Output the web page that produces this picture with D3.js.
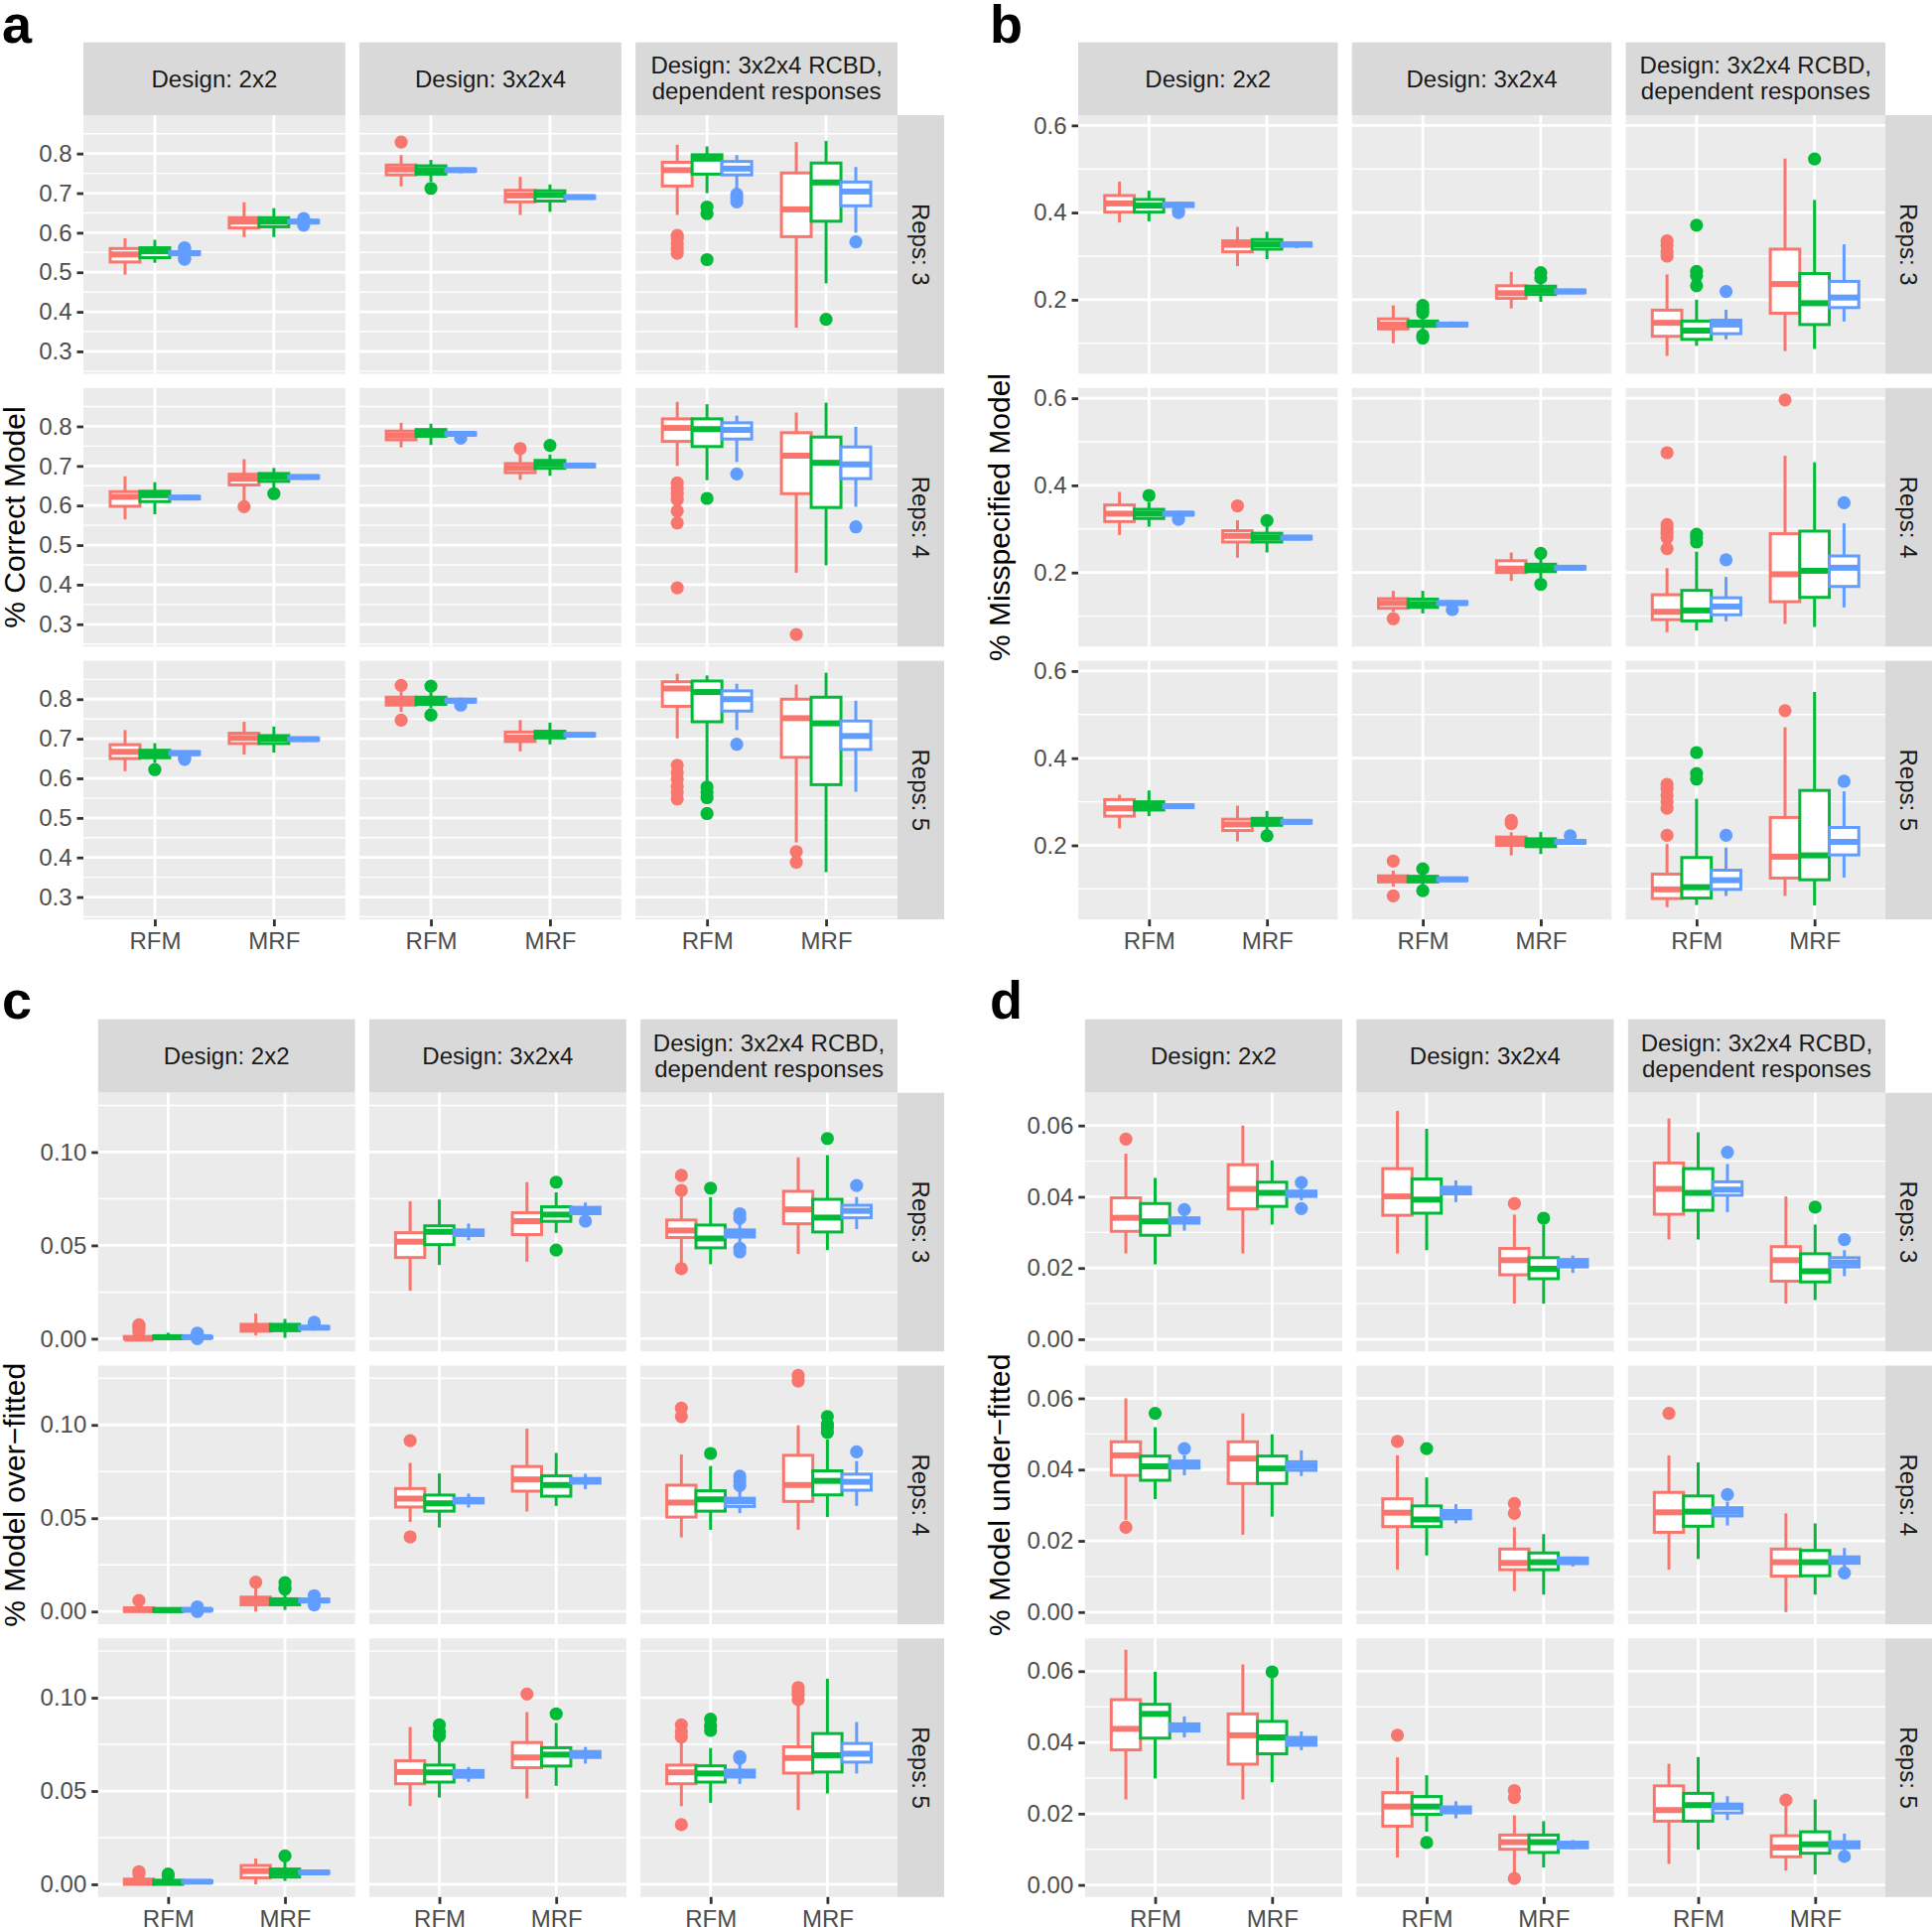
<!DOCTYPE html>
<html><head><meta charset="utf-8">
<script src="https://cdnjs.cloudflare.com/ajax/libs/d3/7.8.5/d3.min.js"></script>
<style>body{margin:0;background:#fff}svg{display:block}</style>
</head><body>
<script>
// ---------- categories & labels ----------
const methods = ["RFM", "MRF"];
const designs = [["Design: 2x2"], ["Design: 3x2x4"], ["Design: 3x2x4 RCBD,", "dependent responses"]];
const repsLabels = ["Reps: 3", "Reps: 4", "Reps: 5"];
const seriesColors = ["#F8766D", "#00BA38", "#619CFF"];
const panelLetters = ["a", "b", "c", "d"];
const yTitles = ["% Correct Model", "% Misspecified Model", "% Model over\u2212fitted", "% Model under\u2212fitted"];

const ticksA = [0.3, 0.4, 0.5, 0.6, 0.7, 0.8];
const minorA = [0.25, 0.35, 0.45, 0.55, 0.65, 0.75, 0.85];
const ticksB = [0.2, 0.4, 0.6];
const minorB = [0.1, 0.3, 0.5];
const ticksC = [0.00, 0.05, 0.10];
const minorC = [0.025, 0.075, 0.125];
const ticksD = [0.00, 0.02, 0.04, 0.06];
const minorD = [0.01, 0.03, 0.05];

// ---------- data: [reps][design][method][series] = [lower whisker, q1, median, q3, upper whisker, outliers] ----------
const correctModel = [
 [ // Reps 3
  [[[0.494,0.526,0.545,0.560,0.586,[]],[0.524,0.537,0.553,0.562,0.582,[]],[0.540,0.545,0.548,0.552,0.556,[0.562,0.559,0.536,0.533]]],
   [[0.589,0.612,0.628,0.638,0.677,[]],[0.589,0.615,0.628,0.638,0.662,[]],[0.621,0.625,0.628,0.631,0.634,[0.636,0.619]]]],
  [[[0.717,0.746,0.760,0.771,0.796,[0.829]],[0.729,0.748,0.758,0.769,0.784,[0.712]],[0.750,0.755,0.758,0.761,0.765,[]]],
   [[0.645,0.678,0.694,0.707,0.741,[]],[0.653,0.680,0.695,0.706,0.722,[]],[0.684,0.687,0.690,0.693,0.696,[]]]],
  [[[0.645,0.718,0.758,0.778,0.822,[0.593,0.585,0.572,0.560,0.548]],[0.700,0.748,0.787,0.797,0.818,[0.665,0.648,0.532]],[0.706,0.746,0.762,0.780,0.796,[0.697,0.688,0.678]]],
   [[0.360,0.590,0.659,0.751,0.829,[]],[0.472,0.629,0.727,0.776,0.832,[0.381]],[0.600,0.668,0.704,0.728,0.766,[0.577]]]]
 ],
 [ // Reps 4
  [[[0.565,0.598,0.622,0.635,0.674,[]],[0.578,0.610,0.626,0.636,0.659,[]],[0.614,0.617,0.620,0.623,0.627,[]]],
   [[0.612,0.652,0.668,0.679,0.717,[0.597]],[0.643,0.661,0.672,0.681,0.695,[0.630]],[0.665,0.669,0.672,0.675,0.678,[]]]],
  [[[0.747,0.766,0.777,0.788,0.809,[]],[0.753,0.775,0.783,0.792,0.807,[]],[0.775,0.778,0.781,0.784,0.789,[0.770]]],
   [[0.665,0.683,0.695,0.706,0.732,[0.744]],[0.675,0.694,0.705,0.714,0.729,[0.752]],[0.695,0.698,0.701,0.704,0.707,[]]]],
  [[[0.700,0.762,0.796,0.819,0.862,[0.657,0.643,0.630,0.615,0.586,0.556,0.392]],[0.664,0.749,0.793,0.819,0.856,[0.618]],[0.710,0.768,0.791,0.809,0.827,[0.680]]],
   [[0.430,0.630,0.726,0.784,0.835,[0.274]],[0.449,0.595,0.708,0.773,0.860,[]],[0.597,0.668,0.704,0.748,0.799,[0.546]]]]
 ],
 [ // Reps 5
  [[[0.618,0.650,0.667,0.685,0.722,[]],[0.639,0.652,0.662,0.671,0.689,[0.622]],[0.656,0.660,0.664,0.667,0.670,[0.652,0.648]]],
   [[0.660,0.688,0.702,0.714,0.743,[]],[0.665,0.688,0.700,0.708,0.731,[]],[0.692,0.696,0.699,0.702,0.705,[]]]],
  [[[0.768,0.785,0.795,0.805,0.818,[0.835,0.747]],[0.777,0.787,0.796,0.805,0.818,[0.833,0.760]],[0.788,0.793,0.796,0.800,0.804,[0.785]]],
   [[0.668,0.693,0.703,0.717,0.747,[]],[0.686,0.702,0.710,0.719,0.741,[]],[0.703,0.707,0.710,0.713,0.716,[]]]],
  [[[0.701,0.782,0.827,0.844,0.864,[0.633,0.615,0.598,0.580,0.565,0.548]],[0.588,0.743,0.818,0.846,0.860,[0.578,0.565,0.551,0.511]],[0.722,0.770,0.800,0.821,0.839,[0.686]]],
   [[0.438,0.653,0.752,0.800,0.837,[0.415,0.388]],[0.363,0.584,0.739,0.805,0.867,[]],[0.566,0.673,0.707,0.745,0.796,[]]]]
 ]
];

const misspecifiedModel = [
 [ // Reps 3
  [[[0.377,0.401,0.421,0.439,0.471,[]],[0.380,0.401,0.416,0.430,0.450,[]],[0.410,0.414,0.418,0.421,0.425,[0.405,0.400]]],
   [[0.277,0.310,0.326,0.335,0.367,[]],[0.293,0.316,0.327,0.338,0.356,[]],[0.318,0.323,0.327,0.330,0.334,[]]]],
  [[[0.100,0.133,0.143,0.156,0.187,[]],[0.128,0.139,0.145,0.151,0.162,[0.187,0.178,0.170,0.118,0.112]],[0.136,0.140,0.143,0.146,0.150,[]]],
   [[0.180,0.203,0.215,0.232,0.264,[]],[0.195,0.212,0.222,0.231,0.240,[0.262,0.250]],[0.213,0.216,0.219,0.222,0.225,[]]]],
  [[[0.071,0.116,0.147,0.176,0.258,[0.335,0.325,0.310,0.300]],[0.094,0.109,0.129,0.151,0.200,[0.371,0.265,0.255,0.232]],[0.109,0.122,0.143,0.153,0.177,[0.219]]],
   [[0.082,0.169,0.236,0.316,0.524,[]],[0.087,0.143,0.192,0.260,0.429,[0.523]],[0.150,0.182,0.205,0.242,0.327,[]]]]
 ],
 [ // Reps 4
  [[[0.286,0.317,0.335,0.355,0.385,[]],[0.305,0.324,0.335,0.345,0.362,[0.377]],[0.327,0.332,0.335,0.338,0.342,[0.322]]],
   [[0.234,0.270,0.284,0.296,0.320,[0.353]],[0.246,0.270,0.280,0.290,0.305,[0.319]],[0.274,0.277,0.280,0.283,0.286,[]]]],
  [[[0.110,0.118,0.130,0.140,0.158,[0.094]],[0.106,0.120,0.128,0.139,0.158,[]],[0.122,0.127,0.130,0.133,0.136,[0.115]]],
   [[0.181,0.200,0.209,0.227,0.246,[]],[0.187,0.202,0.210,0.219,0.231,[0.244,0.173]],[0.205,0.208,0.211,0.214,0.217,[]]]],
  [[[0.063,0.092,0.110,0.149,0.210,[0.475,0.310,0.300,0.290,0.280,0.255]],[0.067,0.089,0.113,0.159,0.248,[0.288,0.280,0.270]],[0.088,0.103,0.122,0.142,0.190,[0.229]]],
   [[0.082,0.133,0.196,0.289,0.468,[0.596]],[0.075,0.143,0.204,0.295,0.453,[]],[0.120,0.168,0.211,0.238,0.313,[0.360]]]]
 ],
 [ // Reps 5
  [[[0.239,0.267,0.285,0.305,0.316,[]],[0.267,0.281,0.290,0.300,0.326,[]],[0.283,0.287,0.290,0.293,0.296,[]]],
   [[0.209,0.234,0.248,0.260,0.291,[]],[0.233,0.246,0.254,0.262,0.279,[0.222]],[0.248,0.251,0.254,0.257,0.260,[]]]],
  [[[0.105,0.116,0.123,0.130,0.142,[0.164,0.084]],[0.108,0.116,0.122,0.129,0.139,[0.146,0.096]],[0.116,0.119,0.122,0.125,0.128,[]]],
   [[0.177,0.200,0.210,0.219,0.230,[0.257,0.250]],[0.180,0.197,0.206,0.215,0.231,[]],[0.202,0.205,0.208,0.211,0.215,[0.222]]]],
  [[[0.058,0.078,0.099,0.134,0.203,[0.340,0.330,0.315,0.300,0.285,0.223]],[0.063,0.079,0.104,0.172,0.307,[0.413,0.365,0.352]],[0.084,0.099,0.120,0.143,0.195,[0.223]]],
   [[0.084,0.125,0.174,0.264,0.471,[0.509]],[0.062,0.121,0.177,0.326,0.552,[]],[0.126,0.178,0.208,0.241,0.324,[0.347]]]]
 ]
];

const overFitted = [
 [ // Reps 3
  [[[0,0,0,0.0012,0.0025,[0.0075,0.0065,0.005,0.0035]],[0,0,0.0008,0.0015,0.0032,[]],[0.0002,0.0005,0.0008,0.0011,0.0015,[0.0025,0.003,0]]],
   [[0.0018,0.004,0.006,0.0077,0.0135,[]],[0.0005,0.0043,0.006,0.0077,0.0106,[]],[0.0045,0.0053,0.0059,0.0065,0.007,[0.0088,0.0078]]]],
  [[[0.0257,0.0435,0.052,0.0568,0.0736,[]],[0.0395,0.0504,0.0573,0.0605,0.0746,[]],[0.0528,0.0553,0.0567,0.0583,0.0617,[]]],
   [[0.0413,0.0558,0.063,0.0675,0.0839,[]],[0.0567,0.0629,0.0665,0.0707,0.0785,[0.0839,0.0475]],[0.0652,0.067,0.0687,0.0704,0.073,[0.063]]]],
  [[[0.0404,0.0542,0.058,0.0636,0.0777,[0.0875,0.0795,0.0375]],[0.0399,0.0487,0.0537,0.0609,0.0759,[0.0807]],[0.0505,0.0545,0.0564,0.0583,0.062,[0.067,0.0645,0.0485,0.0465]]],
   [[0.0454,0.0616,0.0693,0.079,0.0972,[]],[0.0475,0.0572,0.0649,0.0747,0.0984,[0.1073]],[0.0587,0.0648,0.0685,0.0715,0.0759,[0.0821]]]]
 ],
 [ // Reps 4
  [[[0,0,0.001,0.002,0.003,[0.0059]],[0,0,0.0008,0.0015,0.002,[]],[0.0003,0.0006,0.0009,0.0012,0.0016,[0.0025,0]]],
   [[0,0.0036,0.006,0.0077,0.0139,[0.0157]],[0.0009,0.0036,0.0055,0.0068,0.0098,[0.0155,0.013,0.012]],[0.0045,0.0052,0.0059,0.0066,0.0072,[0.0085,0.0035]]]],
  [[[0.048,0.056,0.0605,0.0659,0.0797,[0.0916,0.04]],[0.045,0.0538,0.058,0.0624,0.074,[]],[0.0557,0.0582,0.0594,0.0606,0.0632,[]]],
   [[0.0536,0.0645,0.0708,0.0777,0.098,[]],[0.0566,0.0618,0.0678,0.0727,0.085,[]],[0.0655,0.0688,0.07,0.0713,0.0738,[]]]],
  [[[0.0397,0.0506,0.0584,0.0677,0.0842,[0.109,0.1045]],[0.0438,0.0538,0.0601,0.0647,0.078,[0.0847]],[0.0527,0.0563,0.059,0.0607,0.066,[0.0725,0.07,0.0675]]],
   [[0.0438,0.059,0.0678,0.0837,0.0998,[0.1265,0.1235]],[0.0507,0.0625,0.07,0.0754,0.0922,[0.1045,0.1005,0.0985,0.096]],[0.0566,0.065,0.0695,0.0736,0.0806,[0.0856]]]]
 ],
 [ // Reps 5
  [[[0,0,0.0012,0.0028,0.0042,[0.0068,0.0055]],[0,0,0.001,0.0022,0.0036,[0.0055,0.0045]],[0.0004,0.0009,0.0014,0.0019,0.0024,[]]],
   [[0,0.0035,0.0071,0.0101,0.0139,[]],[0.0018,0.0039,0.006,0.0082,0.0121,[0.0152]],[0.0052,0.0058,0.0064,0.007,0.0076,[]]]],
  [[[0.0419,0.0539,0.0602,0.0662,0.0843,[]],[0.0465,0.0548,0.06,0.0639,0.0772,[0.0855,0.082,0.0795]],[0.0549,0.0574,0.059,0.061,0.0629,[]]],
   [[0.046,0.0625,0.068,0.076,0.0923,[0.102]],[0.0528,0.0634,0.0695,0.0732,0.0865,[0.0914]],[0.0647,0.068,0.0695,0.0712,0.0736,[]]]],
  [[[0.0419,0.0539,0.06,0.0639,0.0763,[0.0855,0.082,0.079,0.032]],[0.0437,0.0548,0.0594,0.0635,0.0731,[0.0885,0.085,0.0825]],[0.0538,0.0575,0.0595,0.0612,0.0656,[0.0685,0.0675]]],
   [[0.0398,0.0596,0.0677,0.0737,0.096,[0.1055,0.1035,0.1015,0.099]],[0.0487,0.0602,0.0692,0.0808,0.1102,[]],[0.0594,0.0655,0.07,0.0755,0.087,[]]]]
 ]
];

const underFitted = [
 [ // Reps 3
  [[[0.0241,0.0303,0.0341,0.0397,0.0521,[0.0562]],[0.021,0.0292,0.0331,0.0381,0.0453,[]],[0.0305,0.0326,0.0333,0.0341,0.0353,[0.0364]]],
   [[0.0241,0.0366,0.0422,0.049,0.06,[]],[0.0322,0.0373,0.0411,0.0441,0.0502,[]],[0.039,0.0401,0.0409,0.0416,0.0427,[0.044,0.0367]]]],
  [[[0.0241,0.0348,0.0401,0.0479,0.0641,[]],[0.025,0.0354,0.0392,0.045,0.0591,[]],[0.0385,0.0408,0.0418,0.0427,0.0446,[]]],
   [[0.01,0.0181,0.0222,0.0255,0.035,[0.0381]],[0.01,0.017,0.0198,0.0229,0.0322,[0.034]],[0.0186,0.0203,0.0213,0.0224,0.0235,[]]]],
  [[[0.028,0.0351,0.0422,0.0495,0.062,[]],[0.028,0.0362,0.0411,0.0479,0.0581,[]],[0.0357,0.0404,0.042,0.0442,0.0492,[0.0525]]],
   [[0.01,0.0163,0.0222,0.026,0.0401,[]],[0.011,0.0161,0.0191,0.024,0.0322,[0.0371]],[0.0177,0.0203,0.0215,0.0229,0.025,[0.028]]]]
 ],
 [ // Reps 4
  [[[0.0259,0.0384,0.044,0.0478,0.06,[0.0238]],[0.0317,0.037,0.0409,0.0438,0.0519,[0.0558]],[0.0384,0.0404,0.0414,0.0424,0.044,[0.0459]]],
   [[0.0217,0.0361,0.0431,0.0478,0.0558,[]],[0.0268,0.0361,0.0403,0.0438,0.0499,[]],[0.0382,0.0398,0.041,0.0422,0.0454,[]]]],
  [[[0.0119,0.024,0.0279,0.0318,0.044,[0.0479]],[0.0159,0.024,0.026,0.0298,0.0378,[0.0459]],[0.0249,0.0262,0.0273,0.0285,0.0303,[]]],
   [[0.0059,0.0119,0.0138,0.0177,0.0238,[0.0305,0.0277]],[0.0049,0.0119,0.014,0.0166,0.0219,[]],[0.0128,0.0136,0.0145,0.0152,0.0156,[]]]],
  [[[0.0119,0.0224,0.028,0.0336,0.044,[0.0558]],[0.0149,0.0241,0.0282,0.0326,0.042,[]],[0.0243,0.027,0.0282,0.0293,0.031,[0.033]]],
   [[0,0.0101,0.014,0.0177,0.0277,[]],[0.0049,0.0102,0.014,0.0173,0.0249,[]],[0.0125,0.0137,0.0147,0.0155,0.018,[0.011]]]]
 ],
 [ // Reps 5
  [[[0.024,0.0379,0.0438,0.052,0.066,[]],[0.0299,0.0412,0.048,0.0507,0.0598,[]],[0.0414,0.0432,0.0442,0.0452,0.0473,[]]],
   [[0.024,0.0339,0.042,0.048,0.0619,[]],[0.0288,0.0368,0.0414,0.0459,0.058,[0.0598]],[0.0378,0.0392,0.0403,0.0414,0.0431,[]]]],
  [[[0.0077,0.0165,0.022,0.0259,0.0358,[0.042]],[0.0149,0.0198,0.022,0.0248,0.0308,[0.0119]],[0.0187,0.0202,0.021,0.0219,0.0235,[]]],
   [[0.0035,0.01,0.012,0.014,0.0195,[0.0265,0.0245,0.0018]],[0.0049,0.0091,0.012,0.014,0.0179,[]],[0.0099,0.0104,0.0112,0.012,0.0126,[]]]],
  [[[0.0059,0.0179,0.021,0.0278,0.034,[]],[0.0099,0.0179,0.0224,0.0257,0.0359,[]],[0.0182,0.0202,0.0218,0.0227,0.0249,[]]],
   [[0.004,0.0079,0.0105,0.0138,0.0221,[0.0238]],[0.0029,0.0089,0.0114,0.0149,0.024,[]],[0.0095,0.0104,0.0113,0.0121,0.0144,[0.008]]]]
 ]
];

// ---------- panel settings ----------
const panels = [
  {data: correctModel,      domain: [0.2435, 0.897],  ticks: ticksA, minor: minorA, fmt: ".1f",
   letterX: 2,   letterY: 43,   left: 84,    stripL: 904,  top: 116,    stripTop: 42.7,   titleX: 25},
  {data: misspecifiedModel, domain: [0.030, 0.6235],  ticks: ticksB, minor: minorB, fmt: ".1f",
   letterX: 997, letterY: 43,   left: 1086,  stripL: 1899, top: 116,    stripTop: 42.7,   titleX: 1017},
  {data: overFitted,        domain: [-0.0068, 0.1318], ticks: ticksC, minor: minorC, fmt: ".2f",
   letterX: 2,   letterY: 1026, left: 98.75, stripL: 904,  top: 1100.7, stripTop: 1026.7, titleX: 25},
  {data: underFitted,       domain: [-0.0034, 0.0692], ticks: ticksD, minor: minorD, fmt: ".2f",
   letterX: 997, letterY: 1026, left: 1092.8, stripL: 1899, top: 1100.7, stripTop: 1026.7, titleX: 1017}
];

const W = 1946, H = 1941;
const rowH = 260.5, gap = 14.3, stripW = 47;
const FONT = "'Liberation Sans', Arial, Helvetica, sans-serif";
const BOX_LW = 3.0, MED_LW = 6.0, OUT_R = 6.6;

const svg = d3.select("body").append("svg")
  .attr("width", W).attr("height", H)
  .style("font-family", FONT);
svg.append("rect").attr("width", W).attr("height", H).attr("fill", "#fff");

function drawBox(g, cx, bw, y, s, color) {
  const [lo, q1, med, q3, hi, outs] = s;
  const bg = g.append("g");
  outs.forEach(o => bg.append("circle").attr("cx", cx).attr("cy", y(o)).attr("r", OUT_R).attr("fill", color));
  bg.append("line").attr("x1", cx).attr("x2", cx).attr("y1", y(q3)).attr("y2", y(hi))
    .attr("stroke", color).attr("stroke-width", BOX_LW);
  bg.append("line").attr("x1", cx).attr("x2", cx).attr("y1", y(q1)).attr("y2", y(lo))
    .attr("stroke", color).attr("stroke-width", BOX_LW);
  bg.append("rect").attr("x", cx - bw / 2).attr("y", y(q3)).attr("width", bw)
    .attr("height", Math.max(0, y(q1) - y(q3)))
    .attr("fill", "#fff").attr("stroke", color).attr("stroke-width", BOX_LW);
  bg.append("line").attr("x1", cx - bw / 2).attr("x2", cx + bw / 2).attr("y1", y(med)).attr("y2", y(med))
    .attr("stroke", color).attr("stroke-width", MED_LW);
}

panels.forEach((p, pi) => {
  const g = svg.append("g");
  const colW = (p.stripL - p.left - 2 * gap) / 3;
  const fmt = d3.format(p.fmt);
  const yBottomAll = p.top + 3 * rowH + 2 * gap;

  // panel letter
  g.append("text").attr("x", p.letterX).attr("y", p.letterY)
    .attr("font-size", 54).attr("font-weight", "bold").attr("fill", "#000").text(panelLetters[pi]);

  // y-axis title
  g.append("text")
    .attr("transform", `translate(${p.titleX},${(p.top + yBottomAll) / 2}) rotate(-90)`)
    .attr("text-anchor", "middle").attr("font-size", 30).attr("fill", "#000")
    .text(yTitles[pi]);

  // column strips
  for (let c = 0; c < 3; c++) {
    const x0 = p.left + c * (colW + gap);
    g.append("rect").attr("x", x0).attr("y", p.stripTop).attr("width", colW)
      .attr("height", p.top - p.stripTop).attr("fill", "#D9D9D9");
    const cy = (p.stripTop + p.top) / 2;
    const lines = designs[c];
    const t = g.append("text").attr("text-anchor", "middle").attr("font-size", 24).attr("fill", "#1A1A1A");
    if (lines.length === 1) {
      t.append("tspan").attr("x", x0 + colW / 2).attr("y", cy + 8.5).text(lines[0]);
    } else {
      t.append("tspan").attr("x", x0 + colW / 2).attr("y", cy - 5).text(lines[0]);
      t.append("tspan").attr("x", x0 + colW / 2).attr("y", cy + 21).text(lines[1]);
    }
  }

  for (let r = 0; r < 3; r++) {
    const yT = p.top + r * (rowH + gap), yB = yT + rowH;
    const y = d3.scaleLinear().domain(p.domain).range([yB, yT]);

    // row strip
    g.append("rect").attr("x", p.stripL).attr("y", yT).attr("width", stripW).attr("height", rowH).attr("fill", "#D9D9D9");
    g.append("text")
      .attr("transform", `translate(${p.stripL + stripW / 2},${(yT + yB) / 2}) rotate(90)`)
      .attr("text-anchor", "middle").attr("dy", "0.35em")
      .attr("font-size", 24).attr("fill", "#1A1A1A").text(repsLabels[r]);

    for (let c = 0; c < 3; c++) {
      const x0 = p.left + c * (colW + gap), x1 = x0 + colW;
      const x = d3.scalePoint().domain(methods).range([x0, x1]).padding(0.6);
      const bw = x.step() * 0.25;
      const fg = g.append("g");

      fg.append("rect").attr("x", x0).attr("y", yT).attr("width", colW).attr("height", rowH).attr("fill", "#EBEBEB");
      p.minor.forEach(v => fg.append("line").attr("x1", x0).attr("x2", x1).attr("y1", y(v)).attr("y2", y(v))
        .attr("stroke", "#fff").attr("stroke-width", 1.4));
      p.ticks.forEach(v => fg.append("line").attr("x1", x0).attr("x2", x1).attr("y1", y(v)).attr("y2", y(v))
        .attr("stroke", "#fff").attr("stroke-width", 2.8));
      methods.forEach(m => fg.append("line").attr("x1", x(m)).attr("x2", x(m)).attr("y1", yT).attr("y2", yB)
        .attr("stroke", "#fff").attr("stroke-width", 2.8));

      methods.forEach((m, mi) => {
        seriesColors.forEach((col, si) => {
          const s = p.data[r][c][mi][si];
          drawBox(fg, x(m) + (si - 1) * bw, bw, y, s, col);
        });
      });

      if (c === 0) {
        const ax = fg.append("g").attr("transform", `translate(${x0},0)`)
          .call(d3.axisLeft(y).tickValues(p.ticks).tickFormat(fmt).tickSize(6.5).tickPadding(5));
        ax.select(".domain").remove();
        ax.attr("font-family", FONT).attr("font-size", 24);
        ax.selectAll(".tick line").attr("stroke", "#333").attr("stroke-width", 2.8);
        ax.selectAll(".tick text").attr("fill", "#4D4D4D");
      }
      if (r === 2) {
        const ax = fg.append("g").attr("transform", `translate(0,${yB})`)
          .call(d3.axisBottom(x).tickSize(7).tickPadding(6));
        ax.select(".domain").remove();
        ax.attr("font-family", FONT).attr("font-size", 24);
        ax.selectAll(".tick line").attr("stroke", "#333").attr("stroke-width", 2.8);
        ax.selectAll(".tick text").attr("fill", "#4D4D4D");
      }
    }
  }
});
</script>
</body></html>
